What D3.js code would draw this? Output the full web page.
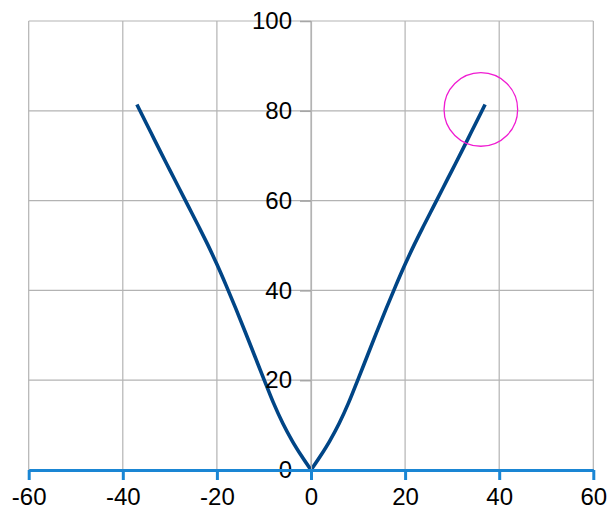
<!DOCTYPE html>
<html>
<head>
<meta charset="utf-8">
<script src="https://cdn.jsdelivr.net/npm/d3@7"></script>
<style>
  html, body { margin: 0; padding: 0; background: #fff; }
  svg { display: block; }
  text { font-family: "Liberation Sans", Arial, sans-serif; }
</style>
</head>
<body>
<svg id="chart" width="608" height="515"></svg>
<script>
// Curve samples (x, y); the two branches are mirror images
const curveX = [-37, -36, -34, -32, -30, -28, -26, -24, -22, -20, -18, -16, -14, -12, -10, -8, -6, -4, -2,
                0, 2, 4, 6, 8, 10, 12, 14, 16, 18, 20, 22, 24, 26, 28, 30, 32, 34, 36, 37];
const curveY = [81.4, 79.3, 75.1, 70.9, 66.8, 62.7, 58.6, 54.5, 50.3, 45.8, 41.0, 36.0, 30.8, 25.5, 20.2, 15.0, 10.4, 6.5, 3.1,
                0, 3.1, 6.5, 10.4, 15.0, 20.2, 25.5, 30.8, 36.0, 41.0, 45.8, 50.3, 54.5, 58.6, 62.7, 66.8, 70.9, 75.1, 79.3, 81.4];

// Highlighted point
const markX = [36.1];
const markY = [80.3];

// Axis ticks
const xTicks = [-60, -40, -20, 0, 20, 40, 60];
const yTicks = [0, 20, 40, 60, 80, 100];

const svg = d3.select("#chart");
const x = d3.scaleLinear().domain([-60, 60]).range([28.7, 593.3]);
const y = d3.scaleLinear().domain([0, 100]).range([470, 21]);

const gridColor = "#b3b3b3";
const fmt = d => String(d);

// Grid
const grid = svg.append("g");
grid.selectAll("line.v").data(xTicks).join("line")
  .attr("x1", d => x(d)).attr("x2", d => x(d))
  .attr("y1", y(100)).attr("y2", y(0))
  .attr("stroke", gridColor).attr("stroke-width", 1.2);
grid.selectAll("line.h").data(yTicks).join("line")
  .attr("x1", x(-60)).attr("x2", x(60))
  .attr("y1", d => y(d)).attr("y2", d => y(d))
  .attr("stroke", gridColor).attr("stroke-width", 1.2);

// Series, one path per branch so the tip at the origin stays sharp
const pts = curveX.map((v, i) => [v, curveY[i]]);
const left = pts.filter(p => p[0] <= 0);
const right = pts.filter(p => p[0] >= 0);
const line = d3.line().x(d => x(d[0])).y(d => y(d[1])).curve(d3.curveMonotoneX);
[left, right].forEach(branch => {
  svg.append("path")
    .attr("d", line(branch))
    .attr("fill", "none")
    .attr("stroke", "#004586")
    .attr("stroke-width", 3.6)
    .attr("stroke-linejoin", "round");
});

// Y axis at x = 0 (outward ticks and labels)
const yAxis = svg.append("g")
  .attr("transform", `translate(${x(0)},0)`)
  .call(d3.axisLeft(y).tickValues(yTicks).tickSize(11).tickPadding(8).tickFormat(fmt));
yAxis.select(".domain").attr("stroke", gridColor).attr("stroke-width", 1.2);
yAxis.selectAll(".tick line").attr("stroke", "#a6a6a6").attr("stroke-width", 1.5);
yAxis.selectAll("text")
  .attr("font-size", 24)
  .attr("fill", "#000")
  .attr("font-family", "Liberation Sans, Arial, sans-serif");

// X axis at y = 0
const xAxis = svg.append("g")
  .attr("transform", `translate(0,${y(0)})`)
  .call(d3.axisBottom(x).tickValues(xTicks).tickSizeInner(10).tickSizeOuter(0).tickPadding(8).tickFormat(fmt));
xAxis.select(".domain").attr("stroke", "#1a86d4").attr("stroke-width", 3);
xAxis.selectAll(".tick line").attr("stroke", "#1a86d4").attr("stroke-width", 3);
xAxis.selectAll("text")
  .attr("font-size", 24)
  .attr("fill", "#000")
  .attr("font-family", "Liberation Sans, Arial, sans-serif");

// Circle around the highlighted point
svg.selectAll("circle.mark").data(markX).join("circle")
  .attr("cx", d => x(d))
  .attr("cy", (d, i) => y(markY[i]))
  .attr("r", 36.8)
  .attr("fill", "none")
  .attr("stroke", "#f01cd2")
  .attr("stroke-width", 1.3);
</script>
</body>
</html>
